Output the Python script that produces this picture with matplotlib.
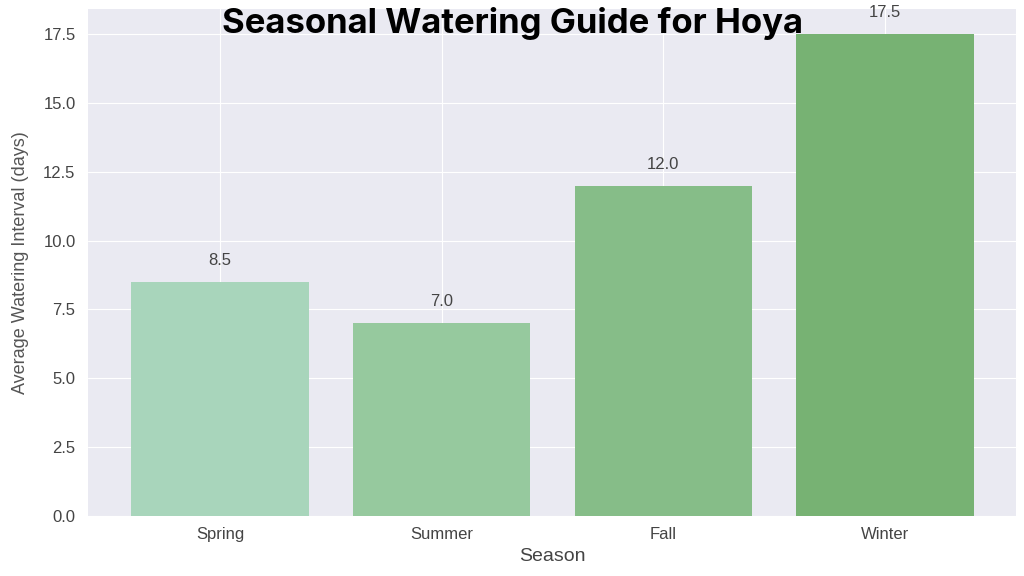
import matplotlib
matplotlib.use("Agg")
import matplotlib.pyplot as plt
import seaborn as sns

seasons = ["Spring", "Summer", "Fall", "Winter"]
intervals = [8.5, 7.0, 12.0, 17.5]
bar_colors = ["#a8d5bb", "#96c99e", "#86bd88", "#77b273"]

sns.set_style("darkgrid")
plt.rcParams['font.family'] = ['Liberation Sans', 'DejaVu Sans']

fig = plt.figure(figsize=(10.24, 5.76), dpi=100)
ax = fig.add_axes([0.086, 0.104, 0.906, 0.880])
ax.set_facecolor("#eaeaf2")

x = range(len(seasons))
bars = ax.bar(x, intervals, width=0.8, color=bar_colors, linewidth=0)

for bar, v in zip(bars, intervals):
    ax.text(bar.get_x() + bar.get_width() / 2, v + 0.5, f"{v:.1f}",
            ha='center', va='bottom', fontsize=12, color='#444444')

ax.set_xticks(list(x))
ax.set_xticklabels(seasons)
ax.set_xlim(-0.595, 3.59)
ax.set_ylim(0, 18.4)
ax.set_yticks([0, 2.5, 5, 7.5, 10, 12.5, 15, 17.5])
ax.tick_params(axis='both', labelsize=12, colors='#444444', length=0)
ax.tick_params(axis='y', pad=9)
ax.tick_params(axis='x', pad=8)
ax.set_xlabel("Season", fontsize=14, color='#444444', labelpad=4)
ax.set_ylabel("Average Watering Interval (days)", fontsize=13, color='#555555', labelpad=10)
for s in ax.spines.values():
    s.set_visible(False)

fig.text(0.5, 1 - 33 / 576, "Seasonal Watering Guide for Hoya", ha='center', va='baseline',
         fontsize=25, fontweight='bold', family=['Inter', 'Open Sans', 'DejaVu Sans'], color='black')

fig.savefig("out.png", dpi=100)
